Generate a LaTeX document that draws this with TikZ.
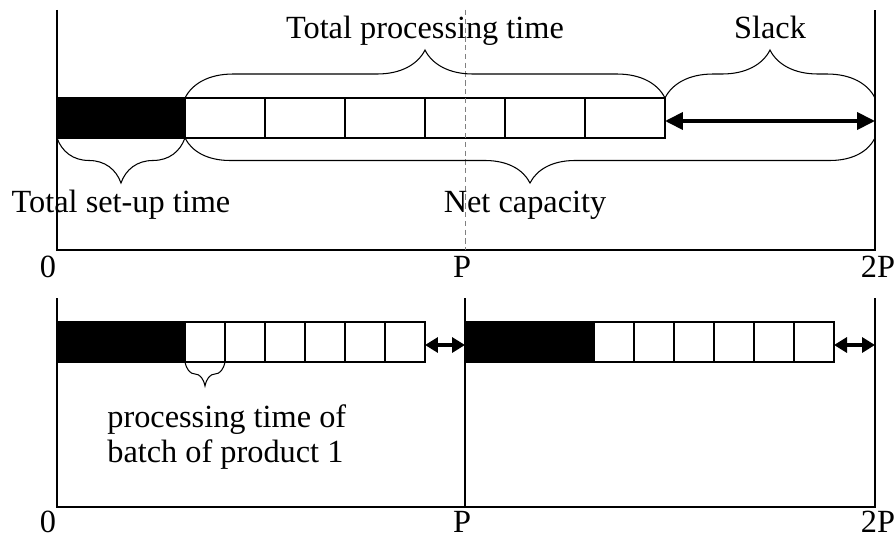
\documentclass[tikz,border=0pt]{standalone}
\usepackage{fontspec}
\setmainfont{Liberation Serif}
\usetikzlibrary{arrows.meta,decorations.pathreplacing,positioning}

\tikzset{
  axis line/.style={line width=0.6pt},
  mid line/.style={line width=0.5pt, gray, dash pattern=on 3pt off 2pt},
  setup box/.style={draw, fill=black, minimum height=0.8cm, inner sep=0pt, outer sep=0pt, anchor=west, line width=0.8pt},
  batch box/.style={draw, fill=white, minimum height=0.8cm, inner sep=0pt, outer sep=0pt, anchor=west, line width=1.4pt},
  slack arrow/.style={{Triangle[length=0.36cm,width=0.34cm]}-{Triangle[length=0.36cm,width=0.34cm]}, line width=2.2pt},
  gap arrow/.style={{Triangle[length=0.26cm,width=0.3cm]}-{Triangle[length=0.26cm,width=0.3cm]}, line width=2.2pt},
  brace line/.style={decorate, decoration={brace, amplitude=#1}, line width=0.6pt},
}

\begin{document}
\begin{tikzpicture}[x=0.02cm, y=-0.02cm, font=\fontsize{18.4}{19.6}\selectfont]
\useasboundingbox (0,0) rectangle (895,537);

% upper time axis
\coordinate (top-0) at (57,250);
\coordinate (top-P) at (465,250);
\coordinate (top-2P) at (875,250);
\draw [axis line] (57,10) -- (top-0) -- (top-2P) -- (875,10);

\node [setup box, minimum width=2.56cm] (setup-1) at (57,118) {};
\foreach \i in {1,...,6}
  \node [batch box, minimum width=1.6cm] (batch-\i) at ({185+80*(\i-1)},118) {};

\draw [mid line] (465,10) -- (top-P);

\draw [slack arrow] ([yshift=-0.06cm]batch-6.east) -- ([yshift=-0.06cm]batch-6.east -| top-2P);

\draw [brace line=0.96cm] (batch-1.north west) -- (batch-6.north east)
  node [midway, anchor=base, yshift=1.2cm] (proc-label) {Total processing time};
\draw [brace line=0.96cm] (batch-6.north east) -- (batch-6.north east -| top-2P)
  node [midway, anchor=base, yshift=1.2cm] (slack-label) {Slack};
\draw [brace line=0.9cm] (setup-1.south east) -- (setup-1.south west)
  node [midway, anchor=base, yshift=-1.5cm] (setup-label) {Total set-up time};
\draw [brace line=0.9cm] (batch-6.south east -| top-2P) -- (batch-1.south west)
  node [midway, anchor=base, xshift=-0.1cm, yshift=-1.5cm] (net-label) {Net capacity};

\node [anchor=base] (top-0-label) at ([xshift=-0.18cm, yshift=-0.56cm]top-0) {0};
\node [anchor=base] (top-P-label) at ([xshift=-0.06cm, yshift=-0.56cm]top-P) {P};
\node [anchor=base] (top-2P-label) at ([xshift=0.06cm, yshift=-0.56cm]top-2P) {2P};

% lower time axis
\coordinate (bot-0) at (57,507);
\coordinate (bot-P) at (465,507);
\coordinate (bot-2P) at (875,507);
\draw [axis line] (57,298) -- (bot-0) -- (bot-2P) -- (875,298);
\draw [axis line] (465,298) -- (bot-P);

\node [setup box, minimum width=2.56cm] (setup-2) at (57,342) {};
\foreach \i in {1,...,6}
  \node [batch box, minimum width=0.8cm] (first-\i) at ({185+40*(\i-1)},342) {};
\node [setup box, minimum width=2.58cm] (setup-3) at (465,342) {};
\foreach \i in {1,...,6}
  \node [batch box, minimum width=0.8cm] (second-\i) at ({594+40*(\i-1)},342) {};

\draw [gap arrow] ([yshift=-0.06cm]first-6.east) -- ([yshift=-0.06cm]first-6.east -| bot-P);
\draw [gap arrow] ([yshift=-0.06cm]second-6.east) -- ([yshift=-0.06cm]second-6.east -| bot-2P);

\draw [brace line=0.48cm] (first-1.south east) -- (first-1.south west);
\node [anchor=base west, align=left, inner sep=0pt] (batch-label) at (107,462)
  {processing time of\\batch of product 1};

\node [anchor=base] (bot-0-label) at ([xshift=-0.18cm, yshift=-0.5cm]bot-0) {0};
\node [anchor=base] (bot-P-label) at ([xshift=-0.06cm, yshift=-0.5cm]bot-P) {P};
\node [anchor=base] (bot-2P-label) at ([xshift=0.06cm, yshift=-0.5cm]bot-2P) {2P};

\end{tikzpicture}
\end{document}
